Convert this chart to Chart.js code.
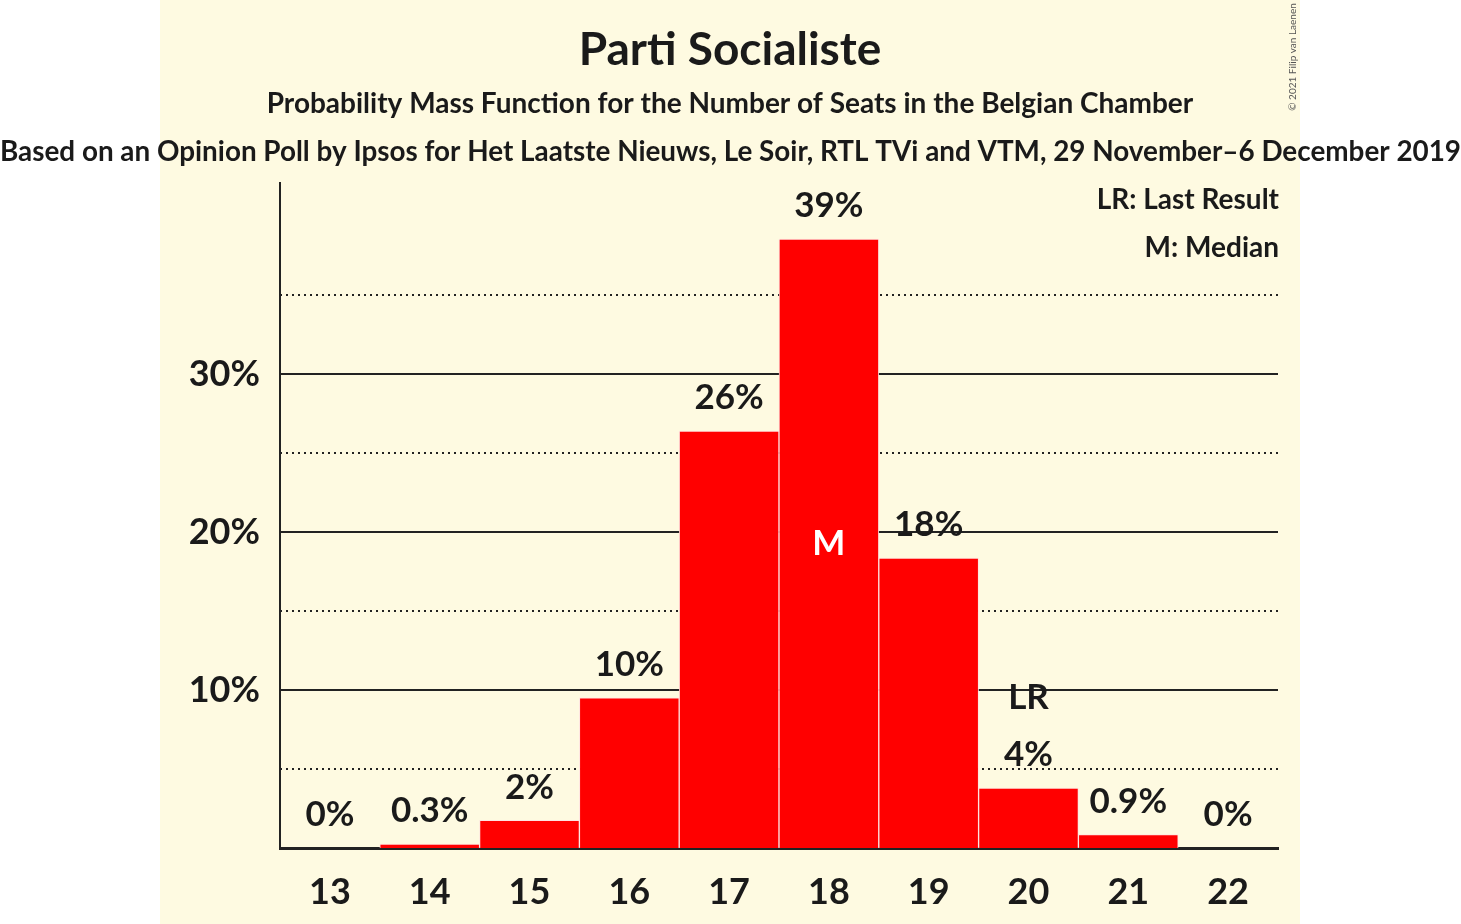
<!DOCTYPE html>
<html>
<head>
<meta charset="utf-8">
<script src="https://cdn.jsdelivr.net/npm/chart.js@4"></script>
<style>
  html, body { margin: 0; padding: 0; background: #fff; }
  canvas { display: block; }
</style>
</head>
<body>
<canvas id="chart" width="1461" height="924"></canvas>
<script>
// ── Data ──────────────────────────────────────────────────────────────────────
const seats       = ['13', '14', '15', '16', '17', '18', '19', '20', '21', '22'];
const probability = [0, 0.25, 1.75, 9.5, 26.4, 38.55, 18.35, 3.8, 0.85, 0];
const barLabels   = ['0%', '0.3%', '2%', '10%', '26%', '39%', '18%', '4%', '0.9%', '0%'];
const yGridValues = [5, 10, 15, 20, 25, 30, 35];
const lastResultSeat = '20';
const medianSeat     = '18';

const TITLE    = 'Parti Socialiste';
const SUBTITLE = 'Probability Mass Function for the Number of Seats in the Belgian Chamber';
const SOURCE   = 'Based on an Opinion Poll by Ipsos for Het Laatste Nieuws, Le Soir, RTL TVi and VTM, 29 November–6 December 2019';
const LEGEND   = ['LR: Last Result', 'M: Median'];
const COPY     = '© 2021 Filip van Laenen';

const INK = '#1a1a1a';
const FONT = 'Lato, "Open Sans", sans-serif';

// ── Plugins ───────────────────────────────────────────────────────────────────
const backdrop = {
  id: 'backdrop',
  beforeDraw(chart) {
    const { ctx } = chart;
    ctx.save();
    ctx.fillStyle = '#fff';
    ctx.fillRect(0, 0, chart.width, chart.height);
    ctx.fillStyle = '#FEFAE1';
    ctx.fillRect(160, 0, 1140, chart.height);
    ctx.restore();
  },
  beforeDatasetsDraw(chart) {
    const { ctx, chartArea } = chart;
    const y = chart.scales.y;
    ctx.save();
    y.ticks.forEach(t => {
      if (t.value === 0) return;
      const py = Math.round(y.getPixelForValue(t.value));
      ctx.beginPath();
      ctx.setLineDash(t.value % 10 === 0 ? [] : [2, 4]);
      ctx.lineWidth = 2;
      ctx.strokeStyle = '#222';
      ctx.moveTo(chartArea.left, py);
      ctx.lineTo(chartArea.right, py);
      ctx.stroke();
    });
    ctx.restore();
  },
  afterDatasetsDraw(chart) {
    const { ctx } = chart;
    const bars = chart.getDatasetMeta(0).data;
    ctx.save();
    ctx.textAlign = 'center';
    ctx.textBaseline = 'middle';
    ctx.fillStyle = INK;
    ctx.font = `bold 35px ${FONT}`;
    bars.forEach((bar, i) => {
      ctx.fillText(barLabels[i], bar.x, bar.y - 33);
      if (seats[i] === lastResultSeat) ctx.fillText('LR', bar.x, bar.y - 90);
    });
    const mb = bars[seats.indexOf(medianSeat)];
    ctx.fillStyle = '#fff';
    ctx.fillText('M', mb.x, (mb.y + mb.base) / 2);

    // titles
    ctx.fillStyle = INK;
    ctx.font = `bold 46px ${FONT}`;
    ctx.fillText(TITLE, 730, 50);
    ctx.font = `bold 28px ${FONT}`;
    ctx.fillText(SUBTITLE, 730, 104);
    ctx.font = `bold 27.85px ${FONT}`;
    ctx.fillText(SOURCE, 730.5, 152);

    // legend
    ctx.textAlign = 'right';
    ctx.font = `bold 28px ${FONT}`;
    ctx.fillText(LEGEND[0], 1279, 200);
    ctx.fillText(LEGEND[1], 1279, 248);

    // copyright
    ctx.translate(1293, 57);
    ctx.rotate(-Math.PI / 2);
    ctx.textAlign = 'center';
    ctx.font = `10px ${FONT}`;
    ctx.fillStyle = '#555';
    ctx.fillText(COPY, 0, 0);
    ctx.restore();
  }
};

// ── Chart ─────────────────────────────────────────────────────────────────────
new Chart(document.getElementById('chart'), {
  type: 'bar',
  data: {
    labels: seats,
    datasets: [{
      data: probability,
      backgroundColor: '#FF0000',
      borderColor: 'rgba(255,225,225,0.9)',
      borderWidth: 1,
      barPercentage: 1,
      categoryPercentage: 1,
    }]
  },
  options: {
    responsive: false,
    devicePixelRatio: 1,
    animation: false,
    layout: { padding: { left: 0, top: 183, right: 183, bottom: 0 } },
    plugins: { legend: { display: false }, tooltip: { enabled: false } },
    scales: {
      x: {
        grid: { display: false },
        border: { display: true, color: '#222', width: 3 },
        ticks: { color: INK, font: { family: FONT, size: 36, weight: 'bold' }, padding: 15 },
        afterFit(scale) { scale.height = 76; },
      },
      y: {
        min: 0,
        max: 42.1,
        grid: { display: false },
        border: { display: true, color: '#222', width: 2 },
        afterBuildTicks(scale) { scale.ticks = [0, ...yGridValues].map(v => ({ value: v })); },
        ticks: {
          color: INK,
          font: { family: FONT, size: 36, weight: 'bold' },
          padding: 12,
          callback: v => (v > 0 && v % 10 === 0 ? `${v}%` : ''),
        },
        afterFit(scale) { scale.width = 280; },
      }
    }
  },
  plugins: [backdrop]
});
</script>
</body>
</html>
